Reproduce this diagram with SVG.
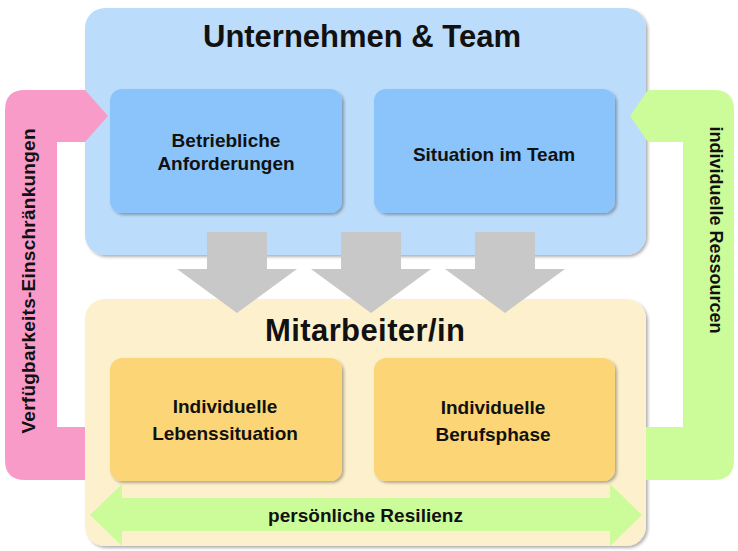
<svg xmlns="http://www.w3.org/2000/svg" width="738" height="551" viewBox="0 0 738 551">
<defs>
<filter id="sh" x="-5%" y="-5%" width="115%" height="115%">
<feDropShadow dx="2" dy="2" stdDeviation="1.5" flood-color="#000" flood-opacity="0.3"/>
</filter>
<style>
.t{font-family:"Liberation Sans",Arial,sans-serif;font-weight:bold;fill:#111;text-anchor:middle}
.big{font-size:31px}
.sm{font-size:19px}
.outerB{fill:#bcdcfb}
.outerY{fill:#fdf0cc}
.innerB{fill:#8bc4fa}
.innerY{fill:#fcd676}
.gray{fill:#c8c8c8}
.pink{fill:#f99bc8}
.green{fill:#ccfc99}
</style>
</defs>
<rect width="738" height="551" fill="#fff"/>

<g id="unternehmen-team">
<rect class="outerB" x="85" y="8" width="561" height="247" rx="20" filter="url(#sh)"/>
<text class="t big" x="362" y="47" textLength="318">Unternehmen &amp; Team</text>
</g>

<g id="mitarbeiter">
<rect class="outerY" x="85" y="299" width="561" height="247" rx="20" filter="url(#sh)"/>
<text class="t big" x="365" y="341" textLength="200">Mitarbeiter/in</text>
</g>

<g id="connectors">
<path id="verfuegbarkeit" class="pink" d="M85 90 L108 116 L85 142 L57 142 L57 427 L85 427 L85 480 L25 480 Q5 480 5 460 L5 110 Q5 90 25 90 Z"/>
<text class="t sm" transform="translate(35 281) rotate(-90)" textLength="305">Verfügbarkeits-Einschränkungen</text>
<path id="ressourcen" class="green" d="M648 90 L714 90 Q734 90 734 110 L734 460 Q734 480 714 480 L646 480 L646 427 L683 427 L683 142 L648 142 L630 116 Z"/>
<text class="t" style="font-size:18px" transform="translate(710 230) rotate(90)">individuelle Ressourcen</text>
<path class="gray" d="M207 232 L267 232 L267 269 L297 269 L237 313 L177 269 L207 269 Z"/>
<path class="gray" d="M341 232 L401 232 L401 269 L431 269 L371 313 L311 269 L341 269 Z"/>
<path class="gray" d="M475 232 L535 232 L535 269 L565 269 L505 313 L445 269 L475 269 Z"/>
<path id="resilienz" class="green" d="M90 515 L122 484 L122 498 L610 498 L610 484 L642 515 L610 546 L610 531 L122 531 L122 546 Z"/>
<text class="t sm" x="365.5" y="522" textLength="195">persönliche Resilienz</text>
</g>

<g id="betriebliche-anforderungen">
<rect class="innerB" x="110" y="89" width="232" height="124" rx="12" filter="url(#sh)"/>
<text class="t sm" x="226" y="147">Betriebliche</text>
<text class="t sm" x="226" y="170">Anforderungen</text>
</g>

<g id="situation-team">
<rect class="innerB" x="374" y="89" width="241" height="124" rx="12" filter="url(#sh)"/>
<text class="t sm" x="494" y="161">Situation im Team</text>
</g>

<g id="lebenssituation">
<rect class="innerY" x="110" y="358" width="232" height="123" rx="12" filter="url(#sh)"/>
<text class="t sm" x="225" y="413">Individuelle</text>
<text class="t sm" x="225" y="440">Lebenssituation</text>
</g>

<g id="berufsphase">
<rect class="innerY" x="374" y="358" width="241" height="123" rx="12" filter="url(#sh)"/>
<text class="t sm" x="493" y="414">Individuelle</text>
<text class="t sm" x="493" y="441">Berufsphase</text>
</g>
</svg>
